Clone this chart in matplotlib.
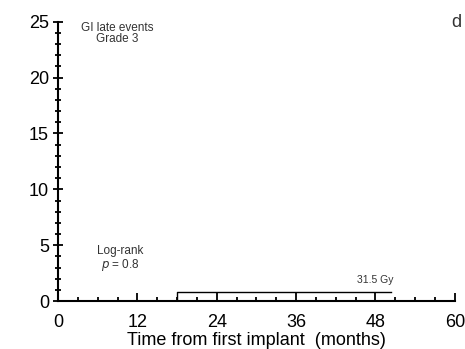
import matplotlib.pyplot as plt
from matplotlib.ticker import MultipleLocator

plt.rcParams['font.family'] = ['Liberation Sans', 'DejaVu Sans']

# cumulative incidence step curve (months, %)
time_months = [0, 18, 18, 50.3]
incidence = [0, 0, 0.8, 0.8]
x_ticks = [0, 12, 24, 36, 48, 60]
y_ticks = [0, 5, 10, 15, 20, 25]

fig = plt.figure(figsize=(4.65, 3.49), dpi=100)
ax = fig.add_axes([0.125, 0.1375, 0.853, 0.8])

ax.plot(time_months, incidence, color='black', linewidth=1.0)

ax.set_xlim(0, 60)
ax.set_ylim(0, 25)
ax.set_xticks(x_ticks)
ax.set_yticks(y_ticks)
ax.xaxis.set_minor_locator(MultipleLocator(3))
ax.yaxis.set_minor_locator(MultipleLocator(1))

for s in ['top', 'right']:
    ax.spines[s].set_visible(False)
for s in ['left', 'bottom']:
    ax.spines[s].set_linewidth(1.5)

ax.tick_params(axis='x', which='major', direction='in', length=6, width=1.3, labelsize=13, pad=9)
ax.tick_params(axis='x', which='minor', direction='in', length=3, width=1.3)
ax.tick_params(axis='y', which='major', direction='inout', length=7, width=1.3, labelsize=13, pad=3)
ax.tick_params(axis='y', which='minor', direction='inout', length=5, width=1.3)

ax.set_xlabel('Time from first implant  (months)', fontsize=13, labelpad=1)

ax.text(9.0, 25.0, 'GI late events\nGrade 3', ha='center', va='top', fontsize=8.5,
        color='#333333', linespacing=0.95)
ax.text(9.4, 5.0, 'Log-rank\n$\\it{p}$ = 0.8', ha='center', va='top', fontsize=8.5,
        color='#333333', linespacing=1.0)
ax.text(48.0, 1.9, '31.5 Gy', ha='center', va='center', fontsize=7.5, color='#333333')
fig.text(0.982, 0.935, 'd', ha='center', va='center', fontsize=13, color='#333333')

fig.savefig('out.png', dpi=100)
